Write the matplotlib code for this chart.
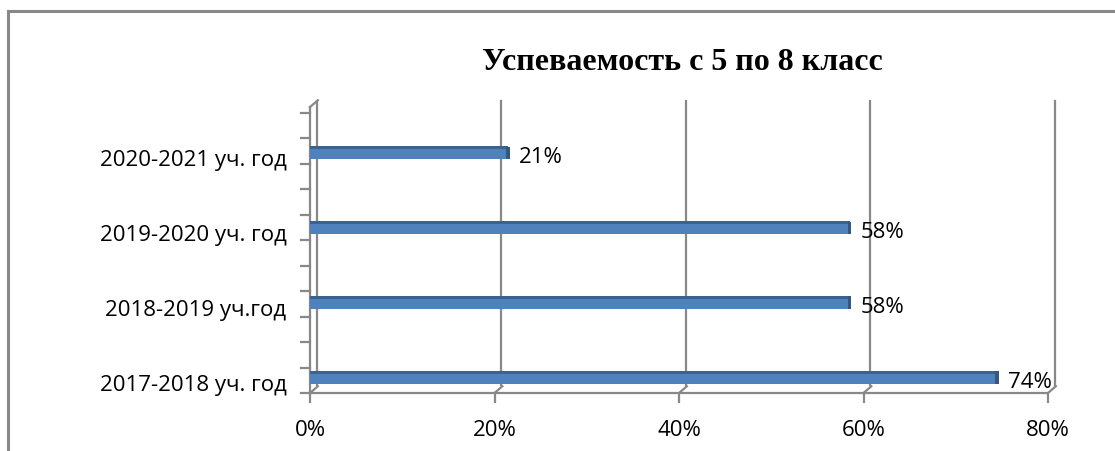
import numpy as np
import matplotlib.pyplot as plt
from matplotlib.transforms import ScaledTranslation

years = ['2017-2018 уч. год', '2018-2019 уч.год', '2019-2020 уч. год', '2020-2021 уч. год']
success = [0.74, 0.58, 0.58, 0.21]
x_ticks = [0.0, 0.2, 0.4, 0.6, 0.8]
title = 'Успеваемость с 5 по 8 класс'

grid_col = '#888888'
face_col = '#4F81BD'
top_col = '#3B6390'
end_col = '#34587F'
font = ['Open Sans', 'DejaVu Sans']


def main():
    fig = plt.figure(figsize=(11.15, 4.52), dpi=100)
    fig.patch.set_facecolor('white')

    # outer frame (top and left only, the rest is cropped)
    fig.add_artist(plt.Line2D([0.0075, 0.0075], [0, 0.974], transform=fig.transFigure,
                              color=grid_col, lw=2.2))
    fig.add_artist(plt.Line2D([0.0075, 1.0], [0.974, 0.974], transform=fig.transFigure,
                              color=grid_col, lw=2.2))

    ax = fig.add_axes([310 / 1115, 58 / 452, 738 / 1115, 286 / 452])
    ymin, ymax = -0.147, 3.667
    ax.set_xlim(0, 0.8)
    ax.set_ylim(ymin, ymax)
    for s in ax.spines.values():
        s.set_visible(False)

    # depth of the 3d walls, in inches
    dx, dy = 0.065, 0.075
    back = ax.transData + ScaledTranslation(dx, dy, fig.dpi_scale_trans)
    mid = ax.transData + ScaledTranslation(dx * 0.7, dy * 0.55, fig.dpi_scale_trans)

    floor = ymin
    wall_top = ymin + 286 / 75
    # back wall gridlines
    for xv in x_ticks:
        ax.plot([xv, xv], [floor, wall_top - 0.02], transform=back, color=grid_col, lw=1.6,
                clip_on=False, zorder=1)
        # floor diagonal
        ax.plot([xv, xv + 0.0085], [floor, floor + 0.09], color=grid_col, lw=1.6,
                clip_on=False, zorder=1)
    # front floor edge and left wall
    ax.plot([0, 0.8], [floor, floor], color=grid_col, lw=1.6, clip_on=False, zorder=1)
    ax.plot([0, 0], [floor, wall_top], color=grid_col, lw=1.6, clip_on=False, zorder=1)
    ax.plot([0, 0.0085], [wall_top, wall_top + 0.09], color=grid_col, lw=1.6,
            clip_on=False, zorder=1)

    # left axis minor ticks
    for yv in np.linspace(floor, floor + 280 / 75, 12):
        ax.plot([-0.0095, 0], [yv, yv], color=grid_col, lw=1.6, clip_on=False, zorder=1)

    # bars (front face, top face, end cap)
    pos = np.arange(len(years))
    h = 0.17
    start = -0.006
    ax.barh(pos, np.array(success) - start, left=start, height=h, color=face_col,
            transform=mid, zorder=3)
    ax.barh(pos + h / 2 - 0.015, np.array(success) - start, left=start, height=0.04,
            color=top_col, transform=mid, zorder=4)
    ax.barh(pos, [0.004] * len(pos), left=np.array(success) - 0.002, height=h,
            color=end_col, transform=mid, zorder=5)

    for p, v in zip(pos, success):
        ax.text(v + 0.012, p - 0.05, f'{round(v * 100)}%', transform=mid,
                fontsize=16, family=font, va='center', ha='left')

    ax.set_yticks(pos)
    ax.set_yticklabels(years, fontsize=16, family=font)
    ax.set_xticks(x_ticks)
    ax.set_xticklabels([f'{int(t * 100)}%' for t in x_ticks], fontsize=16, family=font)
    ax.tick_params(axis='y', length=0, pad=17)
    ax.tick_params(axis='x', length=7, width=1.6, color=grid_col, pad=12)

    fig.text(682 / 1115, 1 - 63 / 452, title, ha='center', va='center', fontsize=23,
             fontweight='bold', family='Liberation Serif')

    fig.savefig('out.png', dpi=100)


if __name__ == "__main__":
    main()
